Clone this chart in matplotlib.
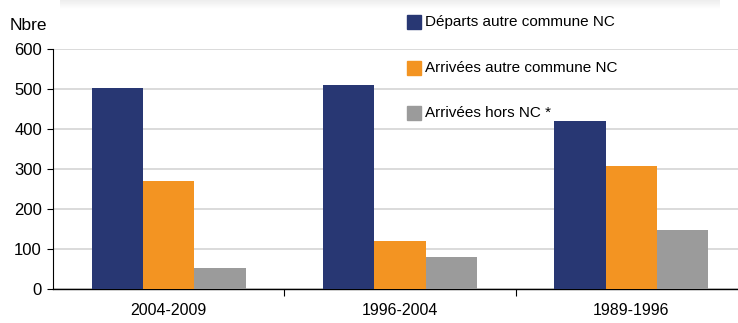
import numpy as np
import matplotlib
matplotlib.use('Agg')
import matplotlib.pyplot as plt
from matplotlib.ticker import FixedLocator

plt.rcParams['font.family'] = ['Liberation Sans Narrow', 'Liberation Sans', 'DejaVu Sans']

periods = ['2004-2009', '1996-2004', '1989-1996']
departs = [502, 511, 419]
arrivees_nc = [270, 121, 307]
arrivees_hors = [53, 81, 147]
labels = ['Départs autre commune NC', 'Arrivées autre commune NC', 'Arrivées hors NC *']
colors = ['#283773', '#F39422', '#9B9B9B']

fig = plt.figure(figsize=(7.38, 3.23), dpi=100)
ax = fig.add_axes([53 / 738, 34 / 323, 694 / 738, 240 / 323])

x = np.arange(len(periods))
w = 0.222
for k, (vals, lab, col) in enumerate(zip([departs, arrivees_nc, arrivees_hors], labels, colors)):
    ax.bar(x + (k - 1) * w, vals, w, color=col, label=lab, zorder=3)

ax.set_xlim(-0.5, 2.5)
ax.set_ylim(0, 600)
ax.set_yticks(range(0, 601, 100))
ax.yaxis.grid(True, color='#D4D4D4', linewidth=1.2, zorder=0)
ax.set_xticks(x)
ax.set_xticklabels(periods, fontsize=11.5)
ax.tick_params(axis='x', which='major', length=0, pad=10)
ax.xaxis.set_minor_locator(FixedLocator([0.5, 1.5]))
ax.tick_params(axis='x', which='minor', length=5, width=0.8)
ax.tick_params(axis='y', length=4, width=0.8, labelsize=12, pad=4)
for s in ['top', 'right']:
    ax.spines[s].set_visible(False)
ax.spines['left'].set_linewidth(0.8)
ax.spines['bottom'].set_linewidth(1.0)

fig.text(10 / 738, 1 - 25 / 323, 'Nbre', fontsize=12.5, va='center', ha='left')

# faint shadow at the top edge
grad = np.linspace(0.93, 1.0, 10).reshape(-1, 1)
sh = fig.add_axes([60 / 738, 1 - 10 / 323, 660 / 738, 10 / 323])
sh.imshow(grad, cmap='gray', vmin=0, vmax=1, aspect='auto', extent=[0, 1, 0, 1])
sh.axis('off')

ys = [22, 68, 113]
for lab, col, yy in zip(labels, colors, ys):
    fy = 1 - yy / 323
    fig.patches.append(plt.Rectangle((407 / 738, fy - 7 / 323), 14 / 738, 14 / 323,
                                     transform=fig.transFigure, color=col, zorder=5))
    fig.text(425 / 738, fy, lab, fontsize=11, va='center', ha='left', zorder=5)

fig.savefig('out.png', dpi=100)
